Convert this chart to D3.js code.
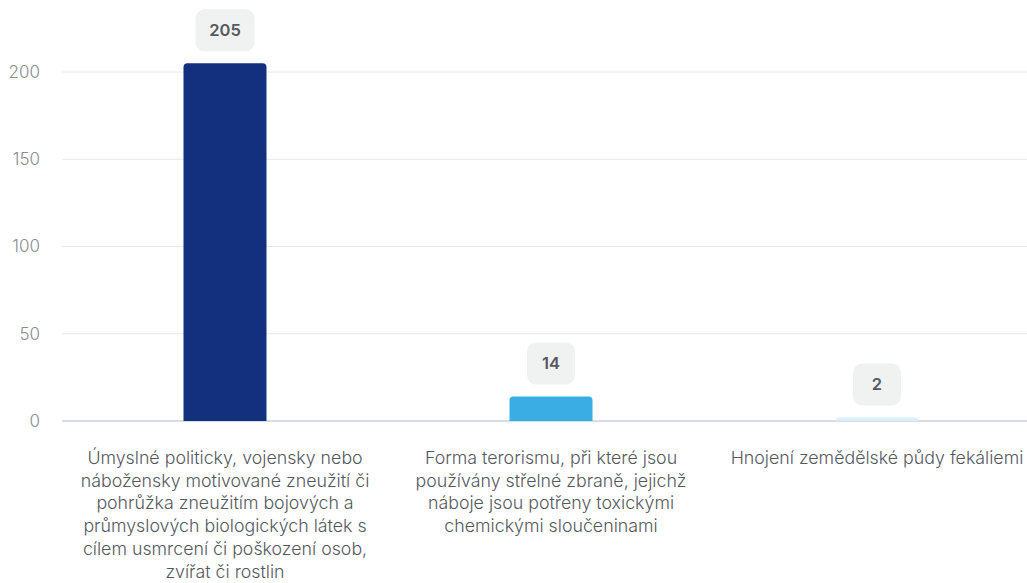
<!DOCTYPE html>
<html><head><meta charset="utf-8">
<script src="https://cdn.jsdelivr.net/npm/d3@7"></script>
<style>html,body{margin:0;padding:0;background:#fff;}svg{display:block;font-family:Inter,"Noto Sans",sans-serif;}</style>
</head><body><svg id="c" width="1027" height="583"></svg>
<script>
const categories = [
  "Úmyslné politicky, vojensky nebo\nnábožensky motivované zneužití či\npohrůžka zneužitím bojových a\nprůmyslových biologických látek s\ncílem usmrcení či poškození osob,\nzvířat či rostlin",
  "Forma terorismu, při které jsou\npoužívány střelné zbraně, jejichž\nnáboje jsou potřeny toxickými\nchemickými sloučeninami",
  "Hnojení zemědělské půdy fekáliemi"
];
const values = [205, 14, 2];
const colors = ["#13307f", "#3aade4", "#d9effb"];
const yTicks = [0, 50, 100, 150, 200];

const svg = d3.select("#c");
const x = d3.scaleBand().domain(categories).range([62, 1040]).padding(0);
const y = d3.scaleLinear().domain([0, 200]).range([421, 72]);
const bw = 83;

// gridlines
svg.append("g").selectAll("line").data(yTicks).join("line")
  .attr("x1", 62).attr("x2", 1027)
  .attr("y1", d => y(d)).attr("y2", d => y(d))
  .attr("stroke", d => d === 0 ? "#d8dce8" : "#e6e8ec")
  .attr("stroke-width", d => d === 0 ? 2 : 1);

// y tick labels
svg.append("g").selectAll("text").data(yTicks).join("text")
  .attr("x", 40).attr("y", d => y(d)).attr("dy", "0.35em")
  .attr("text-anchor", "end").attr("fill", "#8a8d91").attr("font-size", 17).attr("font-weight", 300)
  .text(d => d);

// bars with rounded top
function barPath(x0, y0, w, h, r) {
  r = Math.min(r, h, w / 2);
  return `M${x0},${y0 + h}V${y0 + r}Q${x0},${y0} ${x0 + r},${y0}H${x0 + w - r}Q${x0 + w},${y0} ${x0 + w},${y0 + r}V${y0 + h}Z`;
}
svg.append("g").selectAll("path").data(values).join("path")
  .attr("d", (d, i) => {
    const cx = x(categories[i]) + x.bandwidth() / 2;
    return barPath(cx - bw / 2, y(d), bw, y(0) - y(d), 4);
  })
  .attr("fill", (d, i) => colors[i]);

// value labels
const lg = svg.append("g").selectAll("g").data(values).join("g")
  .attr("transform", (d, i) => `translate(${x(categories[i]) + x.bandwidth() / 2},${y(d) - 12})`);
lg.append("rect")
  .attr("x", d => -(String(d).length > 2 ? 59 : 48) / 2)
  .attr("width", d => String(d).length > 2 ? 59 : 48)
  .attr("y", -42).attr("height", 42).attr("rx", 9)
  .attr("fill", "#f0f1f1");
lg.append("text").attr("y", -21).attr("dy", "0.35em").attr("text-anchor", "middle")
  .attr("font-size", 16.5).attr("font-weight", 600).attr("fill", "#555a60")
  .text(d => d);

// category labels
const cl = svg.append("g").selectAll("text").data(categories).join("text")
  .attr("text-anchor", "middle").attr("font-size", 17.8).attr("font-weight", 300).attr("fill", "#55595e")
  .attr("transform", d => `translate(${x(d) + x.bandwidth() / 2},464)`);
cl.each(function(d) {
  const t = d3.select(this);
  d.split("\n").forEach((line, k) => {
    t.append("tspan").attr("x", 0).attr("y", k * 22.7).text(line);
  });
});
</script></body></html>
